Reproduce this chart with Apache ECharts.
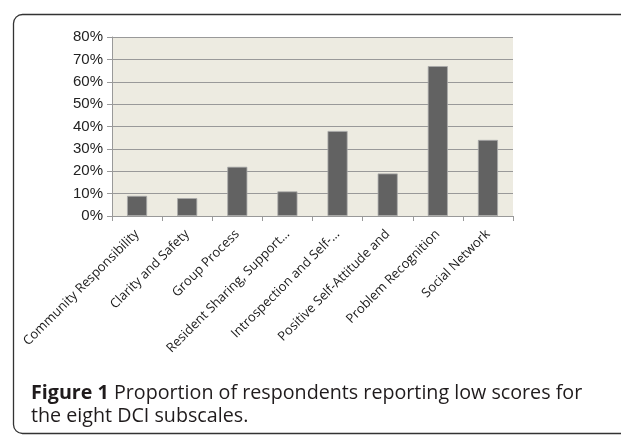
<!DOCTYPE html>
<html><head><meta charset="utf-8">
<script src="https://cdn.jsdelivr.net/npm/echarts@6/dist/echarts.min.js"></script>
<style>html,body{margin:0;padding:0;background:#fff}#c{width:621px;height:436px}</style>
</head><body><div id="c"></div>
<script>
var categories = ["Community Responsibility","Clarity and Safety","Group Process","Resident Sharing, Support\u2026","Introspection and Self-\u2026","Positive Self-Attitude and","Problem Recognition","Social Network"];
var values = [9, 8, 22, 11, 38, 19, 67, 34];
var yTicks = [0, 10, 20, 30, 40, 50, 60, 70, 80];

var chart = echarts.init(document.getElementById('c'), null, {renderer:'canvas'});
chart.setOption({
  animation: false,
  backgroundColor: '#fff',
  graphic: [
    {type:'rect', left:11, top:12, shape:{width:640, height:419, r:9}, style:{fill:'none', stroke:'#333', lineWidth:1.3}, z:-10}
  ],
  title: {
    left: 26, top: 377,
    text: '{b|Figure 1} Proportion of respondents reporting low scores for\nthe eight DCI subscales.',
    textStyle: {
      fontFamily: 'Open Sans', fontSize: 19.7, fontWeight:'normal', color:'#1f1b1c', lineHeight: 23,
      rich: {b:{fontFamily:'Open Sans', fontWeight:'bold', fontSize:19.7, color:'#1f1b1c', lineHeight:23}}
    }
  },
  grid: {left:112, right:108, top:37, bottom:220, containLabel:false},
  xAxis: {
    type:'category', data: categories,
    axisLine:{show:true, lineStyle:{color:'#999', width:1}},
    axisTick:{show:true, length:5, lineStyle:{color:'#999'}},
    axisLabel:{rotate:45, interval:0, fontFamily:'Open Sans', fontSize:13, color:'#1a1a1a', margin:16},
    splitLine:{show:false}
  },
  yAxis: {
    type:'value', min:0, max:80, interval:10,
    axisLine:{show:true, lineStyle:{color:'#999'}},
    axisTick:{show:true, length:5, lineStyle:{color:'#999'}},
    axisLabel:{formatter: function(v){return v+'%';}, fontFamily:'Liberation Sans', fontSize:15, color:'#222', margin:9},
    splitLine:{show:true, lineStyle:{color:'#999', width:1.2}},
    splitArea:{show:true, areaStyle:{color:['#edebe1','#edebe1']}}
  },
  series: [{
    type:'bar', data: values, barWidth:'40%',
    itemStyle:{color:'#626262', borderColor:'#aaa', borderWidth:0.8}
  }]
});
</script></body></html>
